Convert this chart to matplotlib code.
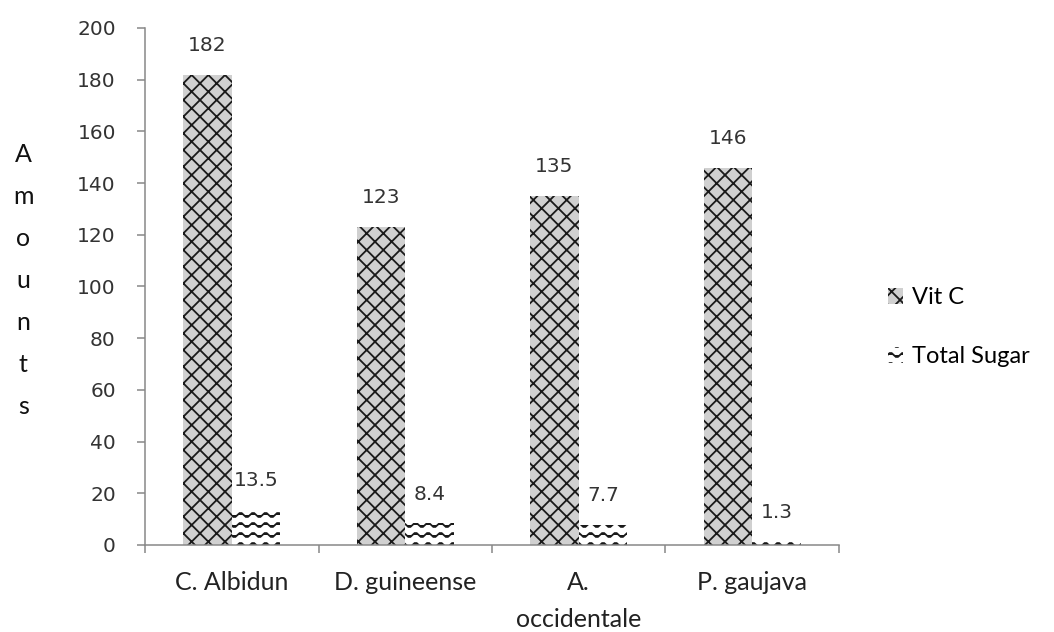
import warnings
import numpy as np
import matplotlib
matplotlib.use("Agg")
import matplotlib.pyplot as plt
import matplotlib.hatch as mhatch
from matplotlib.path import Path

species = ["C. Albidun", "D. guineense", "A.\noccidentale", "P. gaujava"]
vit_c = [182, 123, 135, 146]
total_sugar = [13.5, 8.4, 7.7, 1.3]
series_names = ["Vit C", "Total Sugar"]
value_labels_vit_c = ["182", "123", "135", "146"]
value_labels_sugar = ["13.5", "8.4", "7.7", "1.3"]


class DiamondHatch(mhatch.HatchPatternBase):
    """Crossed diagonals, 6 per tile, drawn for 'd' in a hatch string."""

    def __init__(self, hatch, density):
        self.n = 6 if "d" in hatch else 0
        self.num_vertices = self.n * 2 * 2 * 2

    def set_vertices_and_codes(self, vertices, codes):
        n = self.n
        i = 0
        for k in range(-n, n):
            c = k / n
            vertices[i] = (0.0, c)
            vertices[i + 1] = (1.0, 1.0 + c)
            i += 2
        for k in range(0, 2 * n):
            c = (k + 1) / n
            vertices[i] = (0.0, c)
            vertices[i + 1] = (1.0, c - 1.0)
            i += 2
        codes[0::2] = Path.MOVETO
        codes[1::2] = Path.LINETO


class WaveHatch(mhatch.HatchPatternBase):
    """Wavy horizontal lines, drawn for 'w' in a hatch string."""

    def __init__(self, hatch, density):
        self.num_rows = hatch.count("w") * 10
        self.num_pts = 49
        self.num_vertices = self.num_rows * self.num_pts

    def set_vertices_and_codes(self, vertices, codes):
        xs = np.linspace(0.0, 1.0, self.num_pts)
        rows = (np.arange(self.num_rows) + 0.5) / self.num_rows
        for i, y0 in enumerate(rows):
            sl = slice(i * self.num_pts, (i + 1) * self.num_pts)
            vertices[sl, 0] = xs
            vertices[sl, 1] = y0 + 0.022 * np.sin(2 * np.pi * 8 * xs)
            codes[sl] = Path.LINETO
            codes[i * self.num_pts] = Path.MOVETO


mhatch._hatch_types.extend([DiamondHatch, WaveHatch])
warnings.filterwarnings("ignore")

plt.rcParams["hatch.color"] = "#1a1a1a"
plt.rcParams["hatch.linewidth"] = 1.3

fig = plt.figure(figsize=(10.54, 6.32), dpi=100)
ax = fig.add_axes([0.1376, 0.1377, 0.6584, 0.818])

x = np.arange(len(species))
w = 0.28
bars1 = ax.bar(x - w / 2, vit_c, w, color="#d0d0d0", hatch="d",
               linewidth=0, label=series_names[0])
bars2 = ax.bar(x + w / 2, total_sugar, w, color="white", hatch="w",
               linewidth=0, label=series_names[1])

for bars, labels in ((bars1, value_labels_vit_c), (bars2, value_labels_sugar)):
    for b, lab in zip(bars, labels):
        ax.annotate(lab, (b.get_x() + b.get_width() / 2, b.get_height()),
                    xytext=(0, 21), textcoords="offset points",
                    ha="center", va="center", fontsize=14.5,
                    family="DejaVu Sans", color="#333333")

ax.set_xlim(-0.5, len(species) - 0.5)
ax.set_ylim(0, 200)
ax.set_yticks(np.arange(0, 201, 20))

ax.set_xticks(x)
ax.set_xticklabels(species, family="Lato", fontsize=18, color="#222222",
                   linespacing=1.7, va="top")
ax.set_xticks(np.arange(-0.5, len(species)), minor=True)
ax.tick_params(axis="x", which="major", length=0, pad=19)
ax.tick_params(axis="x", which="minor", length=6, width=1.1, color="#888888")
ax.tick_params(axis="y", length=6, width=1.1, color="#888888", pad=15,
               labelsize=14.5, labelcolor="#333333")

for side in ("top", "right"):
    ax.spines[side].set_visible(False)
for side in ("left", "bottom"):
    ax.spines[side].set_color("#888888")
    ax.spines[side].set_linewidth(1.1)

fig.text(0.022, 1 - 281 / 632, "\n".join("Amounts"), family="Lato",
         fontsize=18, ha="center", va="center", linespacing=2.0,
         color="#111111")

fig.legend(handles=[bars1, bars2], labels=series_names,
           loc="center left", bbox_to_anchor=(0.822, 0.482),
           frameon=False, prop={"family": "Lato", "size": 17},
           handlelength=0.64, handleheight=0.64, handletextpad=0.4,
           labelspacing=1.6)

fig.savefig("out.png", dpi=100)
